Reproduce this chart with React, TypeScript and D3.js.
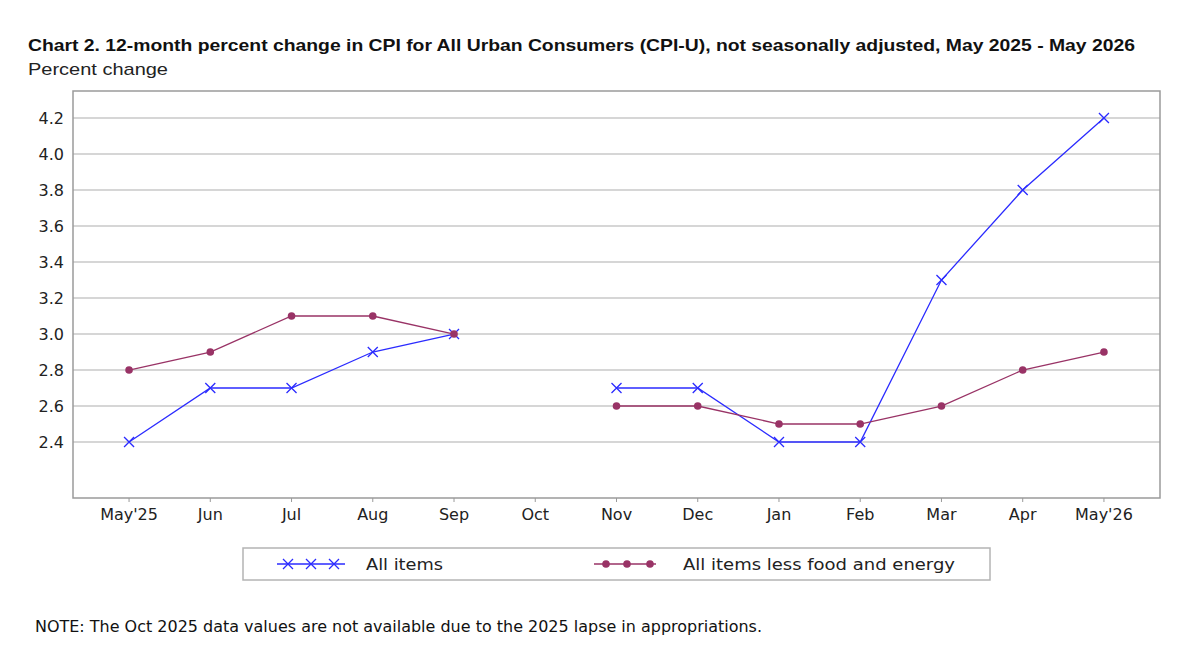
import React from 'react';
import * as d3 from 'd3';

const months = ["May'25", 'Jun', 'Jul', 'Aug', 'Sep', 'Oct', 'Nov', 'Dec', 'Jan', 'Feb', 'Mar', 'Apr', "May'26"];
// Oct 2025 not available
const allItems = [2.4, 2.7, 2.7, 2.9, 3.0, null, 2.7, 2.7, 2.4, 2.4, 3.3, 3.8, 4.2];
const coreItems = [2.8, 2.9, 3.1, 3.1, 3.0, null, 2.6, 2.6, 2.5, 2.5, 2.6, 2.8, 2.9];
const yTicks = [2.4, 2.6, 2.8, 3.0, 3.2, 3.4, 3.6, 3.8, 4.0, 4.2];

const W = 1200;
const H = 652;
const plot = { left: 73, top: 91, right: 1160, bottom: 498 };
const font = 'Arial, "Liberation Sans", sans-serif';
const wide = '"DejaVu Sans", Verdana, sans-serif';
const blue = '#2b2bff';
const maroon = '#993366';

const x = d3.scalePoint<string>().domain(months).range([plot.left, plot.right]).padding(0.69);
const y = d3.scaleLinear().domain([2.089, 4.35]).range([plot.bottom, plot.top]);

const line = d3
  .line<number | null>()
  .defined((d) => d != null)
  .x((_, i) => x(months[i]) as number)
  .y((d) => y(d as number));

const Cross = ({ cx, cy, color }: { cx: number; cy: number; color: string }) => (
  <path d={`M${cx - 5},${cy - 5}L${cx + 5},${cy + 5}M${cx - 5},${cy + 5}L${cx + 5},${cy - 5}`} stroke={color} strokeWidth={1.3} />
);

export default function App() {
  return (
    <svg width={W} height={H} style={{ position: 'absolute', left: 0, top: 0, background: '#fff' }}>
      <rect width={W} height={H} fill="#fff" />
      <text x={28} y={51} fontFamily={font} fontWeight="bold" fontSize={17} fill="#111" textLength={1107} lengthAdjust="spacingAndGlyphs">
        Chart 2. 12-month percent change in CPI for All Urban Consumers (CPI-U), not seasonally adjusted, May 2025 - May 2026
      </text>
      <text x={28} y={75} fontFamily={font} fontSize={17} fill="#222" textLength={140} lengthAdjust="spacingAndGlyphs">
        Percent change
      </text>

      {/* grid */}
      {yTicks.map((t) => (
        <g key={t}>
          <line x1={plot.left} x2={plot.right} y1={y(t)} y2={y(t)} stroke="#c8c8c8" strokeWidth={1.5} />
          <text x={64} y={y(t) + 6} textAnchor="end" fontFamily={wide} fontSize={16} fill="#222">
            {t.toFixed(1)}
          </text>
        </g>
      ))}
      <rect x={plot.left} y={plot.top} width={plot.right - plot.left} height={plot.bottom - plot.top} fill="none" stroke="#9a9a9a" strokeWidth={1.5} />

      {/* x axis */}
      {months.map((m) => (
        <g key={m}>
          <line x1={x(m)} x2={x(m)} y1={plot.bottom} y2={plot.bottom + 4} stroke="#9a9a9a" />
          <text x={x(m)} y={520} textAnchor="middle" fontFamily={wide} fontSize={16} fill="#222">
            {m}
          </text>
        </g>
      ))}

      {/* series */}
      <path d={line(allItems) || ''} fill="none" stroke={blue} strokeWidth={1.3} />
      {allItems.map((v, i) => (v == null ? null : <Cross key={i} cx={x(months[i]) as number} cy={y(v)} color={blue} />))}
      <path d={line(coreItems) || ''} fill="none" stroke={maroon} strokeWidth={1.3} />
      {coreItems.map((v, i) => (v == null ? null : <circle key={i} cx={x(months[i])} cy={y(v)} r={3.8} fill={maroon} />))}

      {/* legend */}
      <rect x={243} y={548} width={747} height={32} fill="#fff" stroke="#b4b4b4" strokeWidth={1.5} />
      <line x1={277} x2={345} y1={564} y2={564} stroke={blue} strokeWidth={1.3} />
      {[288, 311, 334].map((cx) => (
        <Cross key={cx} cx={cx} cy={564} color={blue} />
      ))}
      <text x={366} y={570} fontFamily={wide} fontSize={16} fill="#222" textLength={77} lengthAdjust="spacingAndGlyphs">All items</text>
      <line x1={594} x2={656} y1={564} y2={564} stroke={maroon} strokeWidth={1.3} />
      {[606, 627, 650].map((cx) => (
        <circle key={cx} cx={cx} cy={564} r={3.8} fill={maroon} />
      ))}
      <text x={683} y={570} fontFamily={wide} fontSize={16} fill="#222" textLength={272} lengthAdjust="spacingAndGlyphs">All items less food and energy</text>

      <text x={35} y={632} fontFamily={wide} fontSize={15.5} fill="#111" textLength={727} lengthAdjust="spacingAndGlyphs">
        NOTE: The Oct 2025 data values are not available due to the 2025 lapse in appropriations.
      </text>
    </svg>
  );
}
